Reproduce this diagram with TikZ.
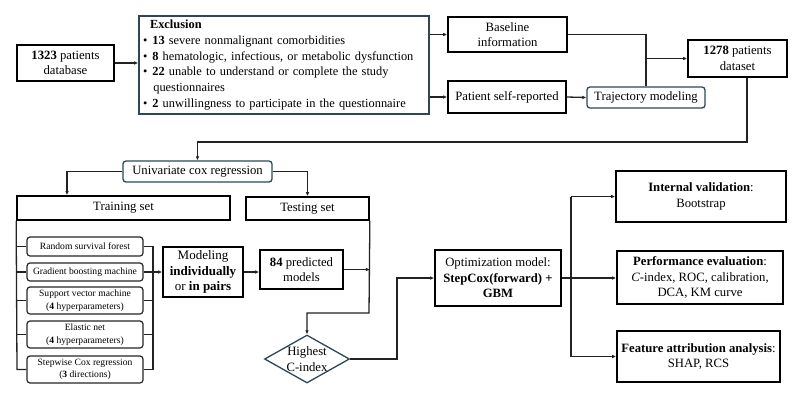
\documentclass[tikz,border=0pt]{standalone}
\usepackage{fontspec}
\setmainfont{Liberation Serif}
\usetikzlibrary{arrows.meta,shapes.geometric,calc}
\definecolor{slate}{HTML}{2E4755}
\definecolor{ln}{HTML}{222222}
\begin{document}
\begin{tikzpicture}[x=1pt,y=-1pt,
  every node/.style={font=\fontsize{12.7}{15.5}\selectfont, align=center, inner sep=2pt},
  box/.style={draw=black, line width=1.7pt, minimum width=#1, inner sep=1pt},
  rbox/.style={draw=slate, line width=1.3pt, rounded corners=3pt, minimum width=#1, inner sep=1pt},
  mbox/.style={draw=black!85, line width=1.2pt, rounded corners=3pt, minimum width=116pt,
     font=\fontsize{9.6}{12.5}\selectfont, inner sep=1pt},
  conn/.style={draw=ln, line width=1.3pt},
  arr/.style={conn, -{Latex[length=4pt,width=3.6pt]}}]
\useasboundingbox (0,0) rectangle (800,400);
\fill[white] (0,0) rectangle (800,400);

% top row
\node[box=97pt, minimum height=36pt] (db) at (65.5,63) {\textbf{1323} patients\\database};
\node[draw=slate, line width=1.6pt, minimum width=290pt, minimum height=98pt, text width=282pt, align=left, inner sep=4pt,
  font=\fontsize{12.4}{15.8}\selectfont] (excl) at (284,65)
  {\hspace*{7pt}\textbf{Exclusion}\\
   \textbullet\hspace{5pt}\textbf{13} severe nonmalignant comorbidities\\
   \textbullet\hspace{5pt}\textbf{8} hematologic, infectious, or metabolic dysfunction\\
   \textbullet\hspace{5pt}\textbf{22} unable to understand or complete the study\\
   \hspace*{10.3pt}questionnaires\\
   \textbullet\hspace{5pt}\textbf{2} unwillingness to participate in the questionnaire};
\node[box=119pt, minimum height=35pt] (base) at (507.5,34.5) {Baseline\\information};
\node[box=118pt, minimum height=32pt] (self) at (507,97) {Patient self-reported};
\node[rbox=118pt, minimum height=21pt] (traj) at (646,97.5) {Trajectory modeling};
\node[box=99pt, minimum height=37pt] (ds) at (737.5,58.5) {\textbf{1278} patients\\dataset};

% middle
\node[rbox=149pt, minimum height=21pt] (uni) at (197.5,171.5) {Univariate cox regression};
\node[box=213pt, minimum height=24pt] (train) at (123.5,208) {Training set};
\node[box=123pt, minimum height=23pt] (test) at (307.5,208.5) {Testing set};

\node[mbox, minimum height=19pt] (rsf) at (85,246.5) {Random survival forest};
\node[mbox, minimum height=18pt] (gbm) at (85,272) {Gradient boosting machine};
\node[mbox, minimum height=27pt] (svm) at (85,300.5) {Support vector machine\\(\textbf{4} hyperparameters)};
\node[mbox, minimum height=27pt] (en) at (85,334.5) {Elastic net\\(\textbf{4} hyperparameters)};
\node[mbox, minimum height=27pt] (sw) at (85,369.5) {Stepwise Cox regression\\(\textbf{3} directions)};

\node[box=80pt, minimum height=50pt, font=\fontsize{13}{15.5}\selectfont] (mod) at (203,272) {Modeling\\\textbf{individually}\\or \textbf{in pairs}};
\node[box=83pt, minimum height=39pt] (pred) at (301.5,269.5) {\textbf{84} predicted\\models};
\node[draw=slate, line width=1.3pt, diamond, aspect=1.77, minimum width=85pt, minimum height=48pt, inner sep=0pt] (hc) at (307,359) {Highest\\C-index};

\node[box=126pt, minimum height=56pt] (opt) at (498,278) {Optimization model:\\\textbf{StepCox(forward) +}\\\textbf{GBM}};
\node[box=170pt, minimum height=51pt] (iv) at (701,196.5) {\textbf{Internal validation}:\\Bootstrap};
\node[box=166pt, minimum height=53pt] (pe) at (700,277.5) {\textbf{Performance evaluation}:\\\textit{C}-index, ROC, calibration,\\DCA, KM curve};
\node[box=163pt, minimum height=51pt] (fa) at (698.5,356.5) {\textbf{Feature attribution analysis}:\\SHAP, RCS};

% coordinates
\coordinate (cds) at (747,142);
\coordinate (cL) at (67,171);
\coordinate (bL) at (17,0);
\coordinate (bR) at (153,0);
\coordinate (cT) at (369,313);
\coordinate (cH) at (397,359);
\coordinate (busR) at (571,278);

% connectors top
\draw[arr] (db.east) -- (db.east -| excl.west);
\draw[arr] (excl.east |- base.west) -- (base.west);
\draw[arr] (excl.east |- self.west) -- (self.west);
\draw[arr] (self.east) -- (traj.west);
\draw[conn] (base.east) -| (traj.north);
\draw[arr] (traj.north |- ds.west) -- (ds.west);
\draw[arr] (ds.south -| cds) -- (cds) -| (uni.north);
\draw[arr] (uni.west) -| (cL |- train.north);
\draw[arr] (uni.east) -| (test.north);

% training buses
\draw[conn] (train.south west) -- (bL |- sw.west) -- (sw.west);
\foreach \n in {rsf,gbm,svm,en} \draw[conn] (bL |- \n.west) -- (\n.west);
\draw[conn] (rsf.east) -- (bR |- rsf.east) -- (bR |- sw.east) -- (sw.east);
\foreach \n in {svm,en} \draw[conn] (\n.east) -- (bR |- \n.east);
\draw[arr] (gbm.east) -- (mod.west);
\draw[arr] (mod.east) -- (mod.east -| pred.west);
\draw[arr] (pred.east) -- (pred.east -| test.east);
\draw[arr] (test.south east) -- (cT) -| (hc.north);
\draw[arr] (hc.east) -- (cH) |- (opt.west);

% right
\draw[arr] (opt.east) -- (opt.east -| pe.west);
\draw[conn] (busR |- iv.west) -- (busR |- fa.west);
\draw[arr] (busR |- iv.west) -- (iv.west);
\draw[arr] (busR |- fa.west) -- (fa.west);
\end{tikzpicture}
\end{document}
